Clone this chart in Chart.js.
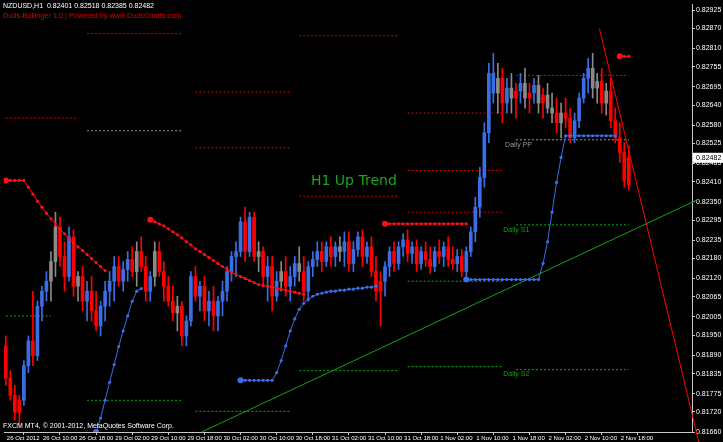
<!DOCTYPE html>
<html><head><meta charset="utf-8">
<script src="https://cdn.jsdelivr.net/npm/chart.js@4.4.0/dist/chart.umd.min.js"></script>
<style>html,body{margin:0;padding:0;background:#000;overflow:hidden}</style>
</head><body>
<canvas id="c" width="723" height="442"></canvas>
<script>
// NZDUSD H1 candles, 26 Oct 2012 02:00 .. 2 Nov 2012
const timeLabels = ['26 Oct 2012','26 Oct 10:00','26 Oct 18:00','29 Oct 02:00','29 Oct 10:00','29 Oct 18:00','30 Oct 02:00','30 Oct 10:00','30 Oct 18:00','31 Oct 02:00','31 Oct 10:00','31 Oct 18:00','1 Nov 02:00','1 Nov 10:00','1 Nov 18:00','2 Nov 02:00','2 Nov 10:00','2 Nov 18:00'];
const barsPerLabel = 8;
const priceTicks = [0.81660,0.81720,0.81775,0.81835,0.81890,0.81950,0.82005,0.82065,0.82120,0.82180,0.82235,0.82295,0.82350,0.82410,0.82465,0.82525,0.82580,0.82640,0.82695,0.82755,0.82810,0.82870,0.82925];

const open = [.81918,.81821,.81770,.81719,.81755,.81859,.81933,.81889,.82037,.82082,.82112,.82171,.82275,.82186,.82126,.82245,.82097,.82126,.82052,.82082,.82023,.81978,.82037,.82082,.82112,.82156,.82112,.82147,.82177,.82141,.82201,.82156,.82082,.82126,.82201,.82141,.82097,.82052,.82017,.82037,.81948,.81993,.82126,.82067,.82097,.82023,.82052,.82008,.82052,.82082,.82141,.82186,.82201,.82290,.82201,.82304,.82186,.82201,.82126,.82156,.82067,.82112,.82141,.82097,.82126,.82165,.82141,.82082,.82156,.82177,.82201,.82171,.82215,.82186,.82215,.82201,.82230,.82165,.82207,.82245,.82186,.82215,.82141,.82082,.82112,.82156,.82201,.82165,.82215,.82236,.82195,.82215,.82165,.82201,.82177,.82156,.82201,.82186,.82215,.82177,.82165,.82186,.82141,.82201,.82260,.82334,.82423,.82557,.82735,.82676,.82720,.82646,.82691,.82661,.82682,.82705,.82661,.82676,.82699,.82646,.82670,.82631,.82616,.82587,.82616,.82601,.82542,.82593,.82661,.82720,.82750,.82691,.82711,.82646,.82682,.82593,.82542,.82498,.82401];
const high = [.81948,.81844,.81800,.81770,.81874,.81948,.82082,.82052,.82097,.82141,.82201,.82319,.82304,.82230,.82275,.82266,.82141,.82156,.82112,.82126,.82082,.82052,.82112,.82141,.82186,.82186,.82171,.82201,.82215,.82230,.82245,.82186,.82141,.82230,.82230,.82171,.82126,.82097,.82067,.82052,.82008,.82141,.82156,.82112,.82126,.82082,.82097,.82067,.82112,.82156,.82201,.82230,.82304,.82334,.82319,.82319,.82230,.82215,.82186,.82186,.82141,.82171,.82186,.82156,.82186,.82215,.82186,.82171,.82201,.82230,.82230,.82230,.82245,.82230,.82245,.82260,.82260,.82230,.82260,.82266,.82230,.82245,.82186,.82141,.82171,.82215,.82230,.82230,.82254,.82266,.82230,.82236,.82215,.82230,.82215,.82215,.82236,.82230,.82245,.82215,.82207,.82207,.82215,.82275,.82364,.82453,.82587,.82765,.82795,.82765,.82750,.82720,.82735,.82705,.82735,.82750,.82705,.82720,.82729,.82691,.82705,.82676,.82661,.82646,.82661,.82631,.82616,.82676,.82735,.82780,.82795,.82735,.82750,.82705,.82720,.82631,.82587,.82527,.82518];
const low = [.81800,.81755,.81696,.81681,.81740,.81838,.81859,.81874,.81993,.82052,.82052,.82126,.82156,.82082,.82112,.82067,.82052,.82023,.81993,.81993,.81963,.81948,.81993,.82037,.82052,.82097,.82082,.82112,.82126,.82097,.82141,.82052,.82052,.82097,.82126,.82052,.82037,.81993,.81963,.81918,.81918,.81978,.82052,.82023,.81993,.81978,.81963,.81963,.82008,.82052,.82112,.82126,.82186,.82171,.82186,.82171,.82141,.82097,.82052,.82023,.82052,.82082,.82067,.82052,.82097,.82112,.82052,.82052,.82126,.82156,.82141,.82156,.82156,.82156,.82171,.82156,.82141,.82141,.82186,.82156,.82165,.82126,.82052,.81978,.82067,.82126,.82141,.82147,.82186,.82171,.82165,.82141,.82147,.82156,.82135,.82141,.82165,.82156,.82156,.82147,.82141,.82126,.82126,.82186,.82230,.82304,.82394,.82527,.82646,.82616,.82587,.82616,.82616,.82601,.82646,.82631,.82616,.82646,.82616,.82601,.82616,.82587,.82557,.82542,.82572,.82527,.82527,.82572,.82646,.82676,.82661,.82646,.82616,.82610,.82572,.82527,.82468,.82394,.82385];
const close = [.81821,.81770,.81719,.81755,.81859,.81933,.81889,.82037,.82082,.82112,.82171,.82275,.82186,.82126,.82245,.82097,.82126,.82052,.82082,.82023,.81978,.82037,.82082,.82112,.82156,.82112,.82147,.82177,.82141,.82201,.82156,.82082,.82126,.82201,.82141,.82097,.82052,.82017,.82037,.81948,.81993,.82126,.82067,.82097,.82023,.82052,.82008,.82052,.82082,.82141,.82186,.82201,.82290,.82201,.82304,.82186,.82201,.82126,.82156,.82067,.82112,.82141,.82097,.82126,.82165,.82141,.82082,.82156,.82177,.82201,.82171,.82215,.82186,.82215,.82201,.82230,.82165,.82207,.82245,.82186,.82215,.82141,.82082,.82112,.82156,.82201,.82165,.82215,.82236,.82195,.82215,.82165,.82201,.82177,.82156,.82201,.82186,.82215,.82177,.82165,.82186,.82141,.82201,.82260,.82334,.82423,.82557,.82735,.82676,.82720,.82646,.82691,.82661,.82682,.82705,.82661,.82676,.82699,.82646,.82670,.82631,.82616,.82587,.82616,.82601,.82542,.82593,.82661,.82720,.82750,.82691,.82711,.82646,.82682,.82593,.82542,.82498,.82414,.82482];
// candle colour state from the Dods-Bollinger indicator: b = up, r = down, g = neutral
const tone = ['r','r','r','r','b','b','r','b','b','b','g','g','r','r','b','r','g','r','b','r','r','b','b','b','b','r','b','b','r','g','r','r','b','g','r','r','r','r','g','r','b','b','r','b','r','b','r','b','b','b','b','b','b','r','b','r','g','r','b','r','b','g','r','b','b','g','r','b','b','b','r','b','r','b','g','b','r','b','b','r','b','r','r','r','b','b','r','b','b','r','b','r','b','r','r','b','r','b','r','r','b','r','b','b','b','b','b','b','b','g','r','b','g','r','b','g','r','b','g','r','g','g','r','g','r','r','b','b','b','b','g','g','r','g','r','r','r','r','r'];

// trailing stop dots
const redStopA = {start: 0, values: [.82414,.82414,.82414,.82414,.82414,.82394,.82373,.82352,.82334,.82316,.82299,.82284,.82269,.82254,.82239,.82227,.82215,.82204,.82192,.82180,.82168,.82156,.82144]};
const blueStopA = {start: 20, values: [.81660,.81702,.81755,.81809,.81862,.81916,.81963,.82008,.82052,.82082,.82090]};
const redStopB = {start: 32, values: [.82296,.82290,.82284,.82278,.82269,.82260,.82251,.82242,.82230,.82221,.82209,.82201,.82192,.82183,.82174,.82165,.82156,.82147,.82138,.82132,.82126,.82120,.82114,.82108,.82102,.82099,.82097,.82094,.82091,.82088,.82085,.82082,.82079,.82076,.82073]};
const blueStopB = {start: 52, values: [.81815,.81815,.81815,.81815,.81815,.81815,.81815,.81815,.81838,.81874,.81918,.81963,.81999,.82028,.82046,.82058,.82067,.82073,.82076,.82079,.82082,.82082,.82085,.82085,.82088,.82088,.82091,.82091,.82094,.82094,.82097]};
const redStopC = {start: 84, values: [.82284,.82284,.82284,.82284,.82284,.82284,.82284,.82284,.82284,.82284,.82284,.82284,.82284,.82284,.82284,.82284,.82284,.82284,.82284]};
const blueStopC = {start: 102, values: [.82117,.82117,.82117,.82117,.82117,.82117,.82117,.82117,.82117,.82117,.82117,.82117,.82117,.82117,.82117,.82117,.82117,.82165,.82230,.82319,.82408,.82483,.82548,.82548,.82548,.82548,.82548,.82548,.82548,.82548,.82548,.82548,.82548,.82548]};
const redStopD = {start: 136, values: [.82786,.82786,.82786]};

// daily pivot segments
const segFrom  = [0, 0, 18, 18, 18, 42, 42, 42, 65, 65, 65, 89, 89, 89, 89, 89, 113, 113, 113, 113];
const segTo    = [16, 10, 39, 39, 39, 63, 63, 63, 87, 87, 87, 110, 110, 110, 110, 110, 138, 138, 138, 138];
const segPrice = [.82601, .82008, .82854, .82563, .81755, .82679, .82512, .81722, .82848, .82367, .81844, .82616, .82444, .82319, .82112, .81856, .82729, .82536, .82281, .81847];
const segKind  = ['r','s','r','p','s','r','r','s','r','r','s','r','r','r','s','s','r','p','s','s'];

// hand-drawn trend lines
const greenTrendX = [43.4, 153.5], greenTrendY = [0.81660, 0.82358];
const redTrendX = [131.5, 153.5], redTrendY = [0.82869, 0.81630];

const lastPrice = 0.82482;

const toneColor = {b: '#3a6ee6', r: '#ff0000', g: '#8a8a8a'};
const kindColor = {r: '#e00000', p: '#9a9a9a', s: '#00b000'};
const idx = close.map((_, i) => i);
const barColors = tone.map(t => toneColor[t]);

function stopData(s) { return s.values.map((v, k) => ({x: s.start + k, y: v})); }
function stopSet(s, color) {
  return {type: 'line', data: stopData(s), borderColor: color, backgroundColor: color, borderWidth: 1,
    pointRadius: s.values.map((_, k) => k === 0 ? 3 : 1.6), pointBorderWidth: 0, order: 1};
}

const datasets = [];
segFrom.forEach((f, k) => {
  datasets.push({type: 'line', data: [{x: f, y: segPrice[k]}, {x: segTo[k], y: segPrice[k]}],
    borderColor: kindColor[segKind[k]], borderWidth: 1, borderDash: [2, 2], pointRadius: 0, order: 6});
});
datasets.push({type: 'line', data: greenTrendX.map((x, k) => ({x, y: greenTrendY[k]})), borderColor: '#16a016', borderWidth: 1, pointRadius: 0, order: 5, clip: false});
datasets.push({type: 'line', data: redTrendX.map((x, k) => ({x, y: redTrendY[k]})), borderColor: '#ff0000', borderWidth: 1, pointRadius: 0, order: 5, clip: false});
datasets.push({type: 'bar', data: idx.map(i => ({x: i, y: [low[i], high[i]]})), backgroundColor: barColors, barThickness: 1, grouped: false, order: 3});
datasets.push({type: 'bar', data: idx.map(i => ({x: i, y: [open[i], close[i]]})), backgroundColor: barColors, barThickness: 3, minBarLength: 1, grouped: false, order: 2});
datasets.push(stopSet(redStopA, '#ff1010'));
datasets.push(stopSet(blueStopA, '#3a6ee6'));
datasets.push(stopSet(redStopB, '#ff1010'));
datasets.push(stopSet(blueStopB, '#3a6ee6'));
datasets.push(stopSet(redStopC, '#ff1010'));
datasets.push(stopSet(blueStopC, '#3a6ee6'));
datasets.push(stopSet(redStopD, '#ff1010'));

const overlay = {
  id: 'overlay',
  afterDraw(chart) {
    const {ctx, scales: {x, y}} = chart;
    ctx.save();
    ctx.textBaseline = 'top';
    ctx.font = '7px "Liberation Sans"';
    ctx.fillStyle = '#ffffff';
    ctx.fillText('NZDUSD,H1  0.82401 0.82518 0.82385 0.82482', 3, 3);
    ctx.font = '7.3px "Liberation Sans"';
    ctx.fillStyle = '#e00000';
    ctx.fillText('Dods-Bollinger 1.0 | Powered by www.DodsCharts.com', 3, 12);
    ctx.font = '7px "Liberation Sans"';
    ctx.fillStyle = '#ffffff';
    ctx.fillText('FXCM MT4, \u00a9 2001-2012, MetaQuotes Software Corp.', 3, 423);
    ctx.font = '14px "DejaVu Sans"';
    ctx.fillStyle = '#1aa51a';
    ctx.fillText('H1 Up Trend', x.getPixelForValue(67.6), y.getPixelForValue(0.82432));
    ctx.font = '7px "Liberation Sans"';
    ctx.fillStyle = '#9a9a9a';
    ctx.fillText('Daily PP', x.getPixelForValue(110.6), y.getPixelForValue(0.82530));
    ctx.fillStyle = '#00b000';
    ctx.fillText('Daily S1', x.getPixelForValue(110.2), y.getPixelForValue(0.82275));
    ctx.fillText('Daily S2', x.getPixelForValue(110.2), y.getPixelForValue(0.81844));
    // last price marker on the price scale
    const py = y.getPixelForValue(lastPrice);
    ctx.fillStyle = '#ffffff';
    ctx.fillRect(693, py - 5, 30, 10);
    ctx.fillStyle = '#000000';
    ctx.textBaseline = 'middle';
    ctx.fillText(lastPrice.toFixed(5), 696, py);
    ctx.restore();
  }
};

Chart.defaults.font.family = '"Liberation Sans", Arial, sans-serif';
new Chart(document.getElementById('c'), {
  type: 'bar',
  data: {datasets},
  plugins: [overlay],
  options: {
    responsive: false, animation: false, events: [],
    layout: {padding: 0},
    plugins: {legend: {display: false}, tooltip: {enabled: false}},
    scales: {
      x: {
        type: 'linear', min: -0.4, max: 152.0, offset: false,
        grid: {drawOnChartArea: false, drawTicks: true, tickLength: 3, color: '#c8c8c8'},
        border: {color: '#c8c8c8'},
        ticks: {autoSkip: false, maxRotation: 0, align: 'start', labelOffset: 1, padding: 0, color: '#ffffff', font: {size: 6},
          callback: v => timeLabels[Math.round(v / barsPerLabel)]},
        afterBuildTicks: s => { s.ticks = timeLabels.map((_, k) => ({value: k * barsPerLabel})); },
        afterFit: s => { s.height = 10; s.paddingLeft = 0; s.paddingRight = 0; }
      },
      y: {
        type: 'linear', position: 'right', min: 0.81660, max: 0.82943,
        grid: {drawOnChartArea: false, drawTicks: true, tickLength: 3, color: '#c8c8c8'},
        border: {color: '#c8c8c8'},
        ticks: {padding: 1, color: '#ffffff', font: {size: 7}, callback: v => v.toFixed(5)},
        afterBuildTicks: s => { s.ticks = priceTicks.map(v => ({value: v})); },
        afterFit: s => { s.width = 31; s.paddingTop = 0; s.paddingBottom = 0; }
      }
    }
  }
});
</script>
</body></html>
